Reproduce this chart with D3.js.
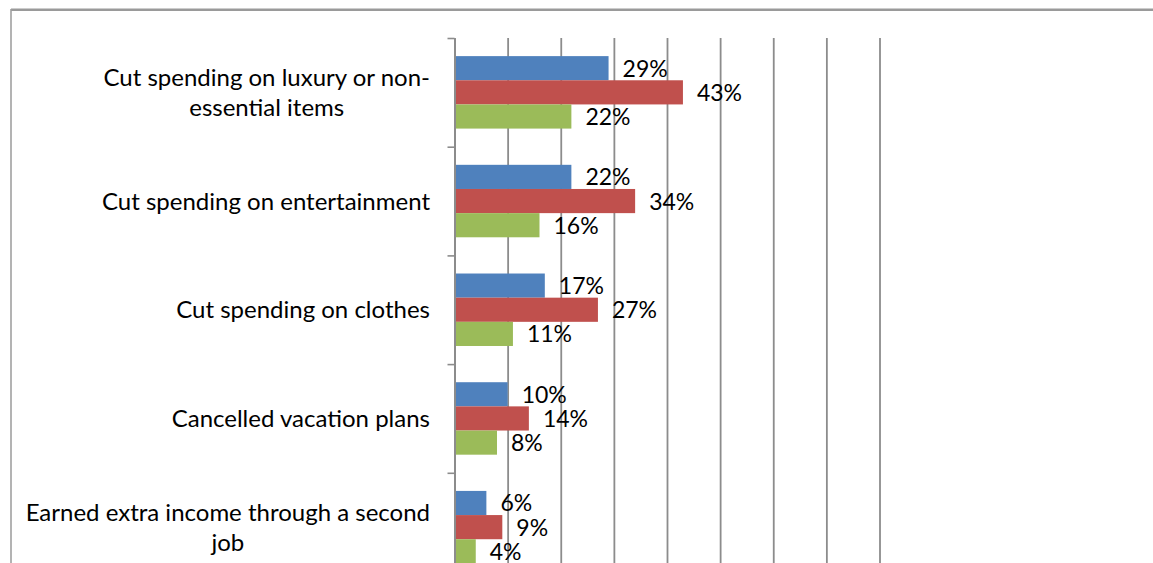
<!DOCTYPE html>
<html>
<head>
<meta charset="utf-8">
<script src="https://cdn.jsdelivr.net/npm/d3@7"></script>
<style>
  html, body { margin: 0; padding: 0; background: #ffffff; }
  svg { display: block; }
  text { font-family: Lato, "Open Sans", sans-serif; fill: #000; }
</style>
</head>
<body>
<svg id="chart" width="1153" height="563"></svg>
<script>
// Category labels (explicit line breaks follow the wrapped layout)
const categories = [
  "Cut spending on luxury or non-\nessential items",
  "Cut spending on entertainment",
  "Cut spending on clothes",
  "Cancelled vacation plans",
  "Earned extra income through a second\njob"
];

// Percent values per series, in category order
const blueValues  = [29, 22, 17, 10, 6];
const redValues   = [43, 34, 27, 14, 9];
const greenValues = [22, 16, 11, 8, 4];

const seriesValues = [blueValues, redValues, greenValues];
const seriesColors = ["#4F81BD", "#C0504D", "#9BBB59"];

// Value axis gridline positions (percent)
const xTicks = [0, 10, 20, 30, 40, 50, 60, 70, 80];

const W = 1153, H = 563;
const plot = { left: 454.5, top: 38, right: 879.5, bottom: 581.5 };
const catFontSize = 24;
const valFontSize = 23;
const gridColor = "#8c8c8c";

const svg = d3.select("#chart");

const x = d3.scaleLinear().domain([0, 80]).range([plot.left, plot.right]);
const y = d3.scaleBand()
  .domain(categories)
  .range([plot.top, plot.bottom])
  .paddingInner(1 / 3)
  .paddingOuter(1 / 6);
const ySub = d3.scaleBand().domain(d3.range(seriesValues.length)).range([0, y.bandwidth()]);
const yEdge = d3.scaleLinear().domain([0, categories.length]).range([plot.top, plot.bottom]);

// Chart frame (top and left edges visible)
svg.append("line")
  .attr("x1", 11).attr("x2", W).attr("y1", 9.75).attr("y2", 9.75)
  .attr("stroke", "#9a9a9a").attr("stroke-width", 2.5);
svg.append("line")
  .attr("x1", 11).attr("x2", 11).attr("y1", 9).attr("y2", H)
  .attr("stroke", "#a0a0a0").attr("stroke-width", 1.6);

// Vertical gridlines
const grid = svg.append("g")
  .attr("transform", `translate(0,${plot.bottom})`)
  .call(d3.axisBottom(x).tickValues(xTicks).tickSize(-(plot.bottom - plot.top)).tickFormat(""));
grid.select(".domain").remove();
grid.selectAll(".tick line").attr("stroke", gridColor).attr("stroke-width", 1.8);

// Bars
const rows = categories.map((c, ci) => ({
  category: c,
  values: seriesValues.map((vals, si) => ({ si, v: vals[ci] }))
}));

const groups = svg.append("g").selectAll("g")
  .data(rows)
  .join("g")
  .attr("transform", d => `translate(0,${y(d.category)})`);

groups.selectAll("rect")
  .data(d => d.values)
  .join("rect")
  .attr("x", x(0))
  .attr("y", d => ySub(d.si))
  .attr("width", d => x(d.v) - x(0))
  .attr("height", ySub.bandwidth())
  .attr("fill", d => seriesColors[d.si]);

// Data labels
groups.selectAll("text.val")
  .data(d => d.values)
  .join("text")
  .attr("class", "val")
  .attr("x", d => x(d.v) + 14)
  .attr("y", d => ySub(d.si) + ySub.bandwidth() / 2 + 8.5)
  .attr("font-size", valFontSize)
  .text(d => d.v + "%");

// Category axis: line with boundary tick marks
const yAxis = svg.append("g")
  .attr("transform", `translate(${plot.left},0)`)
  .call(d3.axisLeft(yEdge).ticks(categories.length).tickSize(7).tickSizeOuter(0).tickFormat(""));
yAxis.select(".domain").attr("stroke", gridColor).attr("stroke-width", 2);
yAxis.selectAll(".tick line").attr("stroke", gridColor).attr("stroke-width", 1.6);

// Category labels: centred lines, block right-aligned next to the axis
const labelRight = 430;
const lineHeight = 30;
const labels = svg.append("g").selectAll("text.cat")
  .data(categories)
  .join("text")
  .attr("class", "cat")
  .attr("font-size", catFontSize)
  .attr("text-anchor", "middle");

labels.each(function (c) {
  const lines = c.split("\n");
  const t = d3.select(this);
  const cy = y(c) + y.bandwidth() / 2;
  const first = cy - (lines.length - 1) * lineHeight / 2 + 8.6;
  const spans = lines.map((ln, i) =>
    t.append("tspan").attr("y", first + i * lineHeight).text(ln));
  const blockW = d3.max(spans, s => s.node().getComputedTextLength());
  spans.forEach(s => s.attr("x", labelRight - blockW / 2));
});
</script>
</body>
</html>
